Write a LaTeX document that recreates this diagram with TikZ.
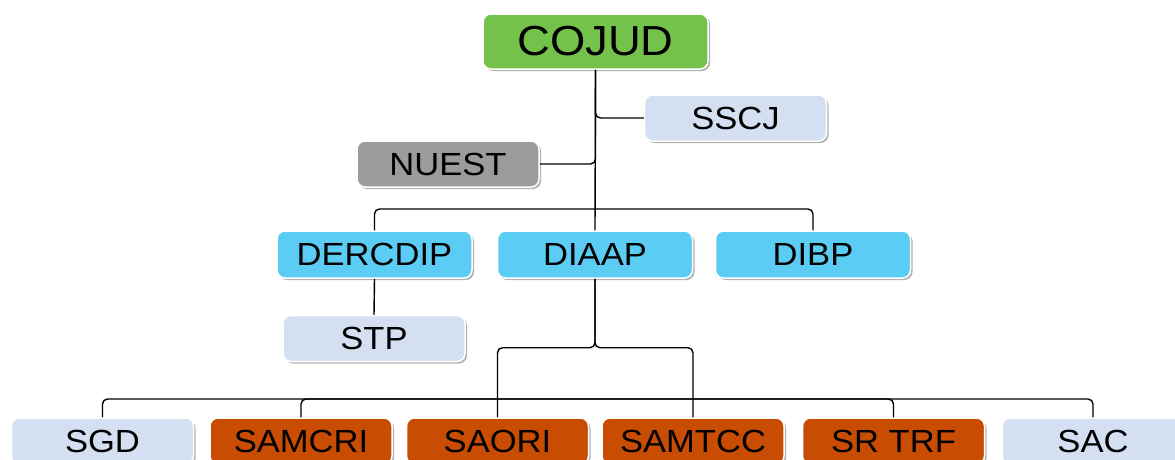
\documentclass[tikz,border=0pt]{standalone}
\usepackage{fontspec}
\setmainfont{Liberation Sans}[FakeStretch=1.08]
\usepackage{tikz}
\usetikzlibrary{positioning,shadows}
\usepackage{xcolor}
\definecolor{leafgreen}{HTML}{74C14C}
\definecolor{paleblue}{HTML}{D4E0F2}
\definecolor{skyblue}{HTML}{5BCCF4}
\definecolor{rust}{HTML}{C84C02}
\definecolor{stone}{HTML}{9B9B9B}

\begin{document}
\begin{tikzpicture}[x=1pt, y=-1pt,
        box/.style={draw=white, line width=1.5pt, rounded corners=8pt,
            minimum width=182pt, minimum height=46pt, inner sep=0pt,
            font=\fontsize{32}{38}\selectfont,
            drop shadow={shadow xshift=2pt, shadow yshift=-2pt, opacity=0.3, fill=black}},
        link/.style={line width=1.4pt, rounded corners=5pt}]
        \useasboundingbox (0,0) rectangle (1175,459);

        % head and staff units
        \node[box, fill=leafgreen, minimum width=225pt, minimum height=55pt,
            font=\fontsize{42}{50}\selectfont] (cojud) at (595.5,41.5) {COJUD};
        \node[box, fill=paleblue] (sscj) at (735.5,118) {SSCJ};
        \node[box, fill=stone] (nuest) at (448,164) {NUEST};

        % directorates
        \node[box, fill=skyblue, minimum width=195pt, minimum height=47pt] (dercdip) at (374.5,254.5) {DERCDIP};
        \node[box, fill=skyblue, minimum width=195pt, minimum height=47pt] (diaap) at (595,254.5) {DIAAP};
        \node[box, fill=skyblue, minimum width=195pt, minimum height=47pt] (dibp) at (813,254.5) {DIBP};
        \node[box, fill=paleblue] (stp) at (374,338.5) {STP};

        % sections
        \node[box, fill=paleblue] (sgd) at (102.5,441) {SGD};
        \node[box, fill=rust] (samcri) at (301,441) {SAMCRI};
        \node[box, fill=rust] (saori) at (497.5,441) {SAORI};
        \node[box, fill=rust] (samtcc) at (693,441) {SAMTCC};
        \node[box, fill=rust] (srtrf) at (893.5,441) {SR TRF};
        \node[box, fill=paleblue] (sac) at (1093,441) {SAC};

        % connectors
        \coordinate (hub) at (595,209);
        \coordinate[below=69pt of diaap.south] (split);
        \coordinate (bus) at (595,399);

        \draw[link] (cojud.south) -- (diaap.north);
        \draw[link] (sscj.west) -| (cojud.south);
        \draw[link] (nuest.east) -| (cojud.south);
        \draw[link] (dercdip.north) |- (hub) -| (dibp.north);
        \draw[link] (dercdip.south) -- (stp.north);
        \draw[link] (diaap.south) -- (split) -| (saori.north);
        \draw[link] (diaap.south) -- (split) -| (samtcc.north);
        \draw[link] (sgd.north) |- (bus) -| (sac.north);
        \draw[link] (samcri.north) |- (bus);
        \draw[link] (srtrf.north) |- (bus);
\end{tikzpicture}
\end{document}
